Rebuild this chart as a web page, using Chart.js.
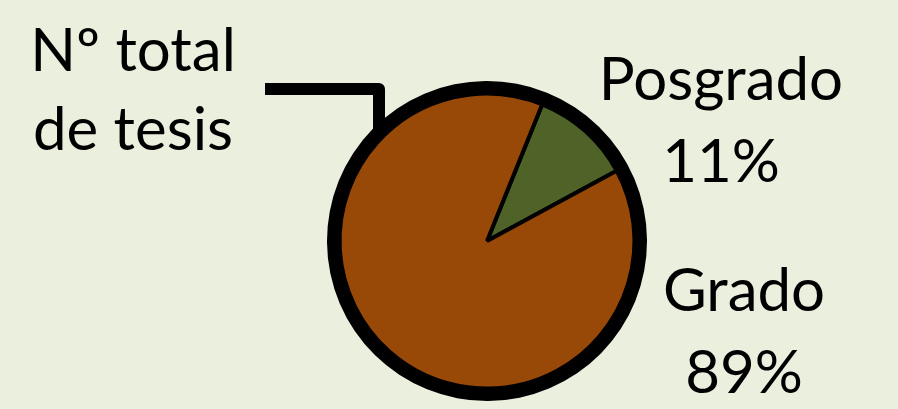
<!DOCTYPE html>
<html>
<head>
<meta charset="utf-8">
<script src="https://cdn.jsdelivr.net/npm/chart.js"></script>
<style>
  html, body { margin: 0; padding: 0; background: #EBF0DE; }
  #wrap { width: 898px; height: 409px; position: relative; }
</style>
</head>
<body>
<div id="wrap"><canvas id="pie"></canvas></div>
<script>
// ----------------------------
// Data
// ----------------------------
const categories = ["Posgrado", "Grado"];
const values = [11, 89];
const sliceColors = ["#4F6228", "#984807"];
const titleLines = ["Nº total", "de tesis"];

const FONT = "60px Lato";

// ----------------------------
// Labels + leader line
// ----------------------------
const labelPlugin = {
  id: "labels",
  beforeDatasetsDraw(chart) {
    // leader line from the title to the pie edge
    const arc = chart.getDatasetMeta(1).data[0];
    const ctx = chart.ctx;
    const cx = arc.x, cy = arc.y;
    ctx.save();
    ctx.strokeStyle = "#000";
    ctx.lineWidth = 12;
    ctx.lineJoin = "round";
    ctx.beginPath();
    ctx.moveTo(cx - 222, cy - 152);
    ctx.lineTo(cx - 108, cy - 152);
    ctx.lineTo(cx - 108, cy - 100);
    ctx.stroke();
    ctx.restore();
  },
  afterDraw(chart) {
    const ctx = chart.ctx;
    const total = values.reduce((a, b) => a + b, 0);
    ctx.save();
    ctx.fillStyle = "#000";
    ctx.font = FONT;
    ctx.textAlign = "center";
    ctx.textBaseline = "alphabetic";

    ctx.fillText(titleLines[0], 133, 71);
    ctx.fillText(titleLines[1], 133, 150);

    const pos = [
      { x: 721, y1: 100, y2: 182 },
      { x: 744, y1: 311, y2: 393 }
    ];
    categories.forEach((c, i) => {
      const pct = Math.round(values[i] / total * 100) + "%";
      ctx.fillText(c, pos[i].x, pos[i].y1);
      ctx.fillText(pct, pos[i].x, pos[i].y2);
    });
    ctx.restore();
  }
};

// ----------------------------
// Pie chart
// ----------------------------
new Chart(document.getElementById("pie"), {
  type: "pie",
  data: {
    labels: categories,
    datasets: [
      {
        // thick black outline ring
        data: [1],
        backgroundColor: ["#000"],
        borderWidth: 0,
        weight: 0.085
      },
      {
        data: values,
        backgroundColor: sliceColors,
        borderColor: "#000",
        borderWidth: 4,
        weight: 1
      }
    ]
  },
  options: {
    responsive: true,
    maintainAspectRatio: false,
    animation: false,
    rotation: 22,
    layout: { padding: { top: 81, bottom: 8, left: 327, right: 251 } },
    plugins: {
      legend: { display: false },
      tooltip: { enabled: false }
    }
  },
  plugins: [labelPlugin]
});
</script>
</body>
</html>
